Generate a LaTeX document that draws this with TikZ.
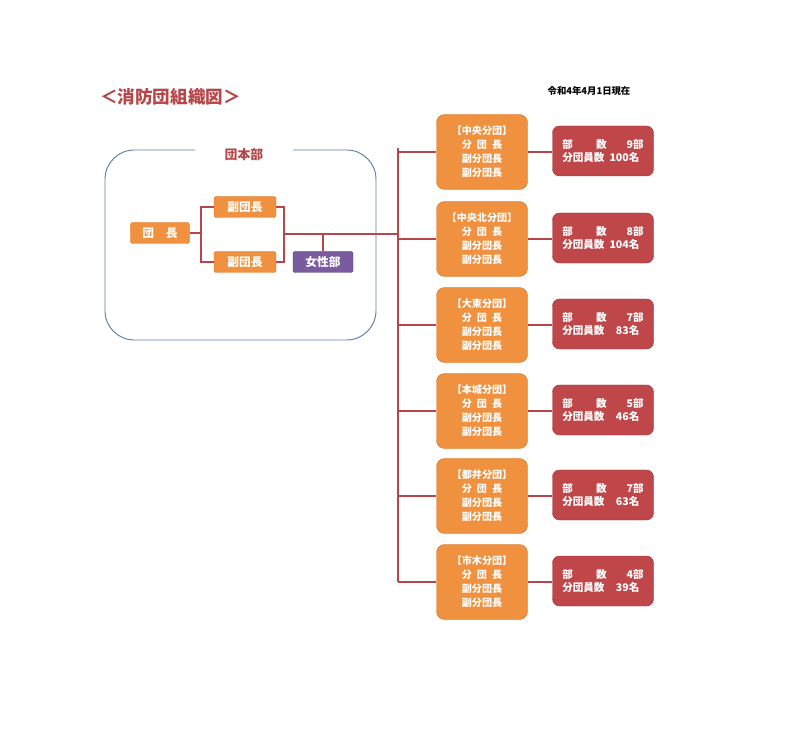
\documentclass[tikz,border=0pt]{standalone}
\usepackage{fontspec}
\setmainfont{Noto Sans CJK JP}
\begin{document}
\begin{tikzpicture}[x=0.03cm,y=-0.03cm,
 ln/.style={draw=lnc,line width=0.9pt},
 org/.style={draw=orgd,fill=orgc,rounded corners=2pt,text=white,font=\bfseries\fontsize{10}{11}\selectfont,minimum height=0.63cm,inner sep=0pt},
 br/.style={draw=orgd,fill=orgc,rounded corners=7pt,text=white,font=\bfseries\fontsize{8.6}{12}\selectfont,minimum width=2.73cm,minimum height=2.25cm,align=center,inner sep=0pt},
 cnt/.style={draw=redd,fill=redc,rounded corners=6pt,text=white,font=\bfseries\fontsize{9}{11.5}\selectfont,minimum width=3.03cm,minimum height=1.5cm,align=left,inner sep=0pt}]
\definecolor{orgc}{HTML}{F0913F}\definecolor{orgd}{HTML}{D9772A}
\definecolor{redc}{HTML}{BF4749}\definecolor{redd}{HTML}{A33436}
\definecolor{lnc}{HTML}{B5474A}\definecolor{bluec}{HTML}{5B7FA8}
\definecolor{purc}{HTML}{7B5BA0}
\useasboundingbox (0,0) rectangle (800,734);
\node[text=lnc,font=\bfseries\fontsize{15}{16}\selectfont,anchor=west] (title) at (96,97) {＜消防団組織図＞};
\node[font=\bfseries\fontsize{8}{9}\selectfont] (date) at (589,91) {令和4年4月1日現在};
% HQ box
\draw[bluec,line width=0.8pt,rounded corners=25] (195,150) -- (105,150) -- (105,340) -- (376,340) -- (376,150) -- (293,150);
\node[text=lnc,font=\bfseries\fontsize{11}{12}\selectfont] (hq) at (244,155) {団本部};
\node[org,minimum width=1.77cm] (chief) at (160,233) {団\hspace{1em}長};
\node[org,minimum width=1.86cm] (v1) at (245,207) {副団長};
\node[org,minimum width=1.86cm] (v2) at (245,262) {副団長};
\node[org,fill=purc,draw=purc!70!black,minimum width=1.8cm] (wom) at (323,262) {女性部};
\draw[ln] (chief.east) -- (201,233) coordinate (c1);
\draw[ln] (v1.west) -| (c1) |- (v2.west);
\draw[ln] (v1.east) -| (284,234) coordinate (c2) |- (v2.east);
\draw[ln] (c2) -- (398,234) coordinate (c3);
\draw[ln] (wom.north) -- (323,234);
\def\bys{152/中央分団/9/100,239/中央北分団/8/104,325/大東分団/7/83,411/本城分団/5/46,496/都井分団/7/63,582/市木分団/4/39}
\foreach \yy/\nm/\bu/\pp [count=\i] in \bys {
 \node[br] (b\i) at (482,\yy) {【\nm】\\分\hspace{0.5em}団\hspace{0.5em}長\\副分団長\\副分団長};
 \node[cnt] (r\i) at (603,\yy-1) {部\hspace{2.2em}数\hspace{1.9em}\bu 部\\分団員数\hspace{0.3em}\makebox[2em][r]{\pp}名};
 \draw[ln] (b\i.east) -- (r\i.west |- b\i.east);
 \draw[ln] (398,\yy) -- (b\i.west);
}
\draw[ln] (398,148) -- (398,582);
\end{tikzpicture}
\end{document}
